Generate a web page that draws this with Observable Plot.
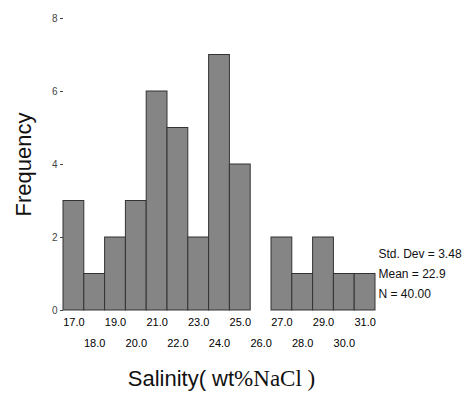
<!DOCTYPE html>
<html>
<head>
<meta charset="utf-8">
<script src="https://cdn.jsdelivr.net/npm/d3@7"></script>
<script src="https://cdn.jsdelivr.net/npm/@observablehq/plot@0.6"></script>
<style>
  html, body { margin: 0; padding: 0; background: #fff; }
  svg { font-family: "Liberation Sans", Arial, sans-serif; }
</style>
</head>
<body>
<div id="chart"></div>
<script>
const binCenters = [17, 18, 19, 20, 21, 22, 23, 24, 25, 26, 27, 28, 29, 30, 31];
const frequencies = [3, 1, 2, 3, 6, 5, 2, 7, 4, 0, 2, 1, 2, 1, 1];
const oddTicks = [17, 19, 21, 23, 25, 27, 29, 31];
const evenTicks = [18, 20, 22, 24, 26, 28, 30];
const yTicks = [0, 2, 4, 6, 8];
const statsLines = ["Std. Dev = 3.48", "Mean = 22.9", "N = 40.00"];
const yTitle = "Frequency";
const xTitleSans = "Salinity( wt";
const xTitleSerif = "%NaCl )";

const data = binCenters.map((c, i) => ({x1: c - 0.5, x2: c + 0.5, n: frequencies[i]})).filter(d => d.n > 0);

const chart = Plot.plot({
  width: 476,
  height: 398,
  marginLeft: 63,
  marginRight: 101,
  marginTop: 18,
  marginBottom: 88,
  style: {fontFamily: "'Liberation Sans', Arial, sans-serif", background: "#fff"},
  x: {domain: [16.5, 31.5]},
  y: {domain: [0, 8]},
  marks: [
    Plot.rectY(data, {x1: "x1", x2: "x2", y: "n", fill: "#858585", stroke: "#333", strokeWidth: 1}),
    Plot.axisY({ticks: yTicks, tickSize: 3, tickPadding: 3, fontSize: 10, label: null, tickFormat: d => d, color: "#444"}),
    Plot.axisX({ticks: oddTicks, tickSize: 0, tickPadding: 8, fontSize: 11, label: null, tickFormat: d => d.toFixed(1)}),
    Plot.axisX({ticks: evenTicks, tickSize: 0, tickPadding: 29, fontSize: 11, label: null, tickFormat: d => d.toFixed(1)}),
    Plot.text([yTitle], {frameAnchor: "left", textAnchor: "middle", rotate: -90, dx: -40, fontSize: 22, fill: "#111"}),
    Plot.text([xTitleSans + xTitleSerif], {frameAnchor: "bottom", dy: 75, dx: 2, fontSize: 22, fill: "#111", className: "xtitle"}),
    ...statsLines.map((s, i) => Plot.text([s], {frameAnchor: "bottom-right", textAnchor: "start", dx: 3, dy: -53 + i * 20, fontSize: 12, fill: "#111"}))
  ]
});
// split the x title into a sans part and a serif part, as in the original figure
d3.select(chart).selectAll(".xtitle text").each(function() {
  const t = d3.select(this);
  t.text(null);
  t.append("tspan").text(xTitleSans);
  t.append("tspan").attr("font-family", "'Liberation Serif', 'Times New Roman', serif").attr("font-size", 23).text(xTitleSerif);
});
document.getElementById("chart").appendChild(chart);
</script>
</body>
</html>
